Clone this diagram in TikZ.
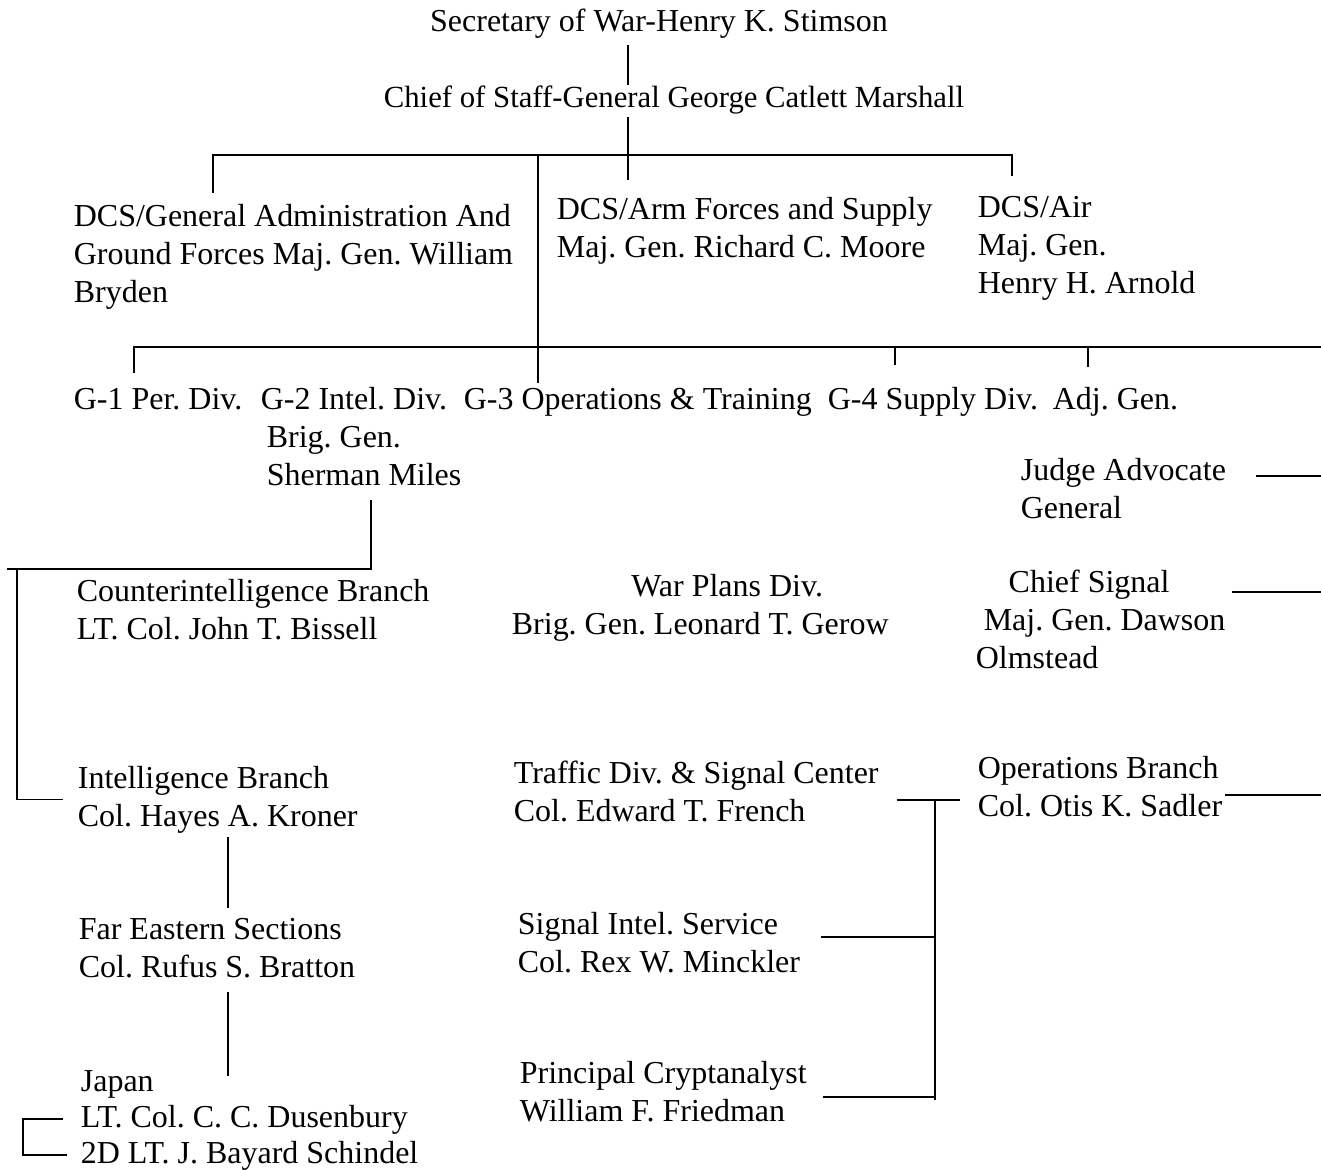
\documentclass[tikz,border=0pt]{standalone}
\usepackage{fontspec}
\setmainfont{Liberation Serif}
\usetikzlibrary{calc}
\frenchspacing

\begin{document}
\begin{tikzpicture}[x=0.02cm, y=-0.02cm, line width=1pt,
  lbl/.style={inner sep=0pt, anchor=base west, align=left,
    font=\fontsize{18.2}{21.5}\selectfont}]
  \useasboundingbox (0,0) rectangle (1321,1169);
  % top of the chain
  \node[lbl, anchor=base] (stimson) at (659,32) {Secretary of War-Henry K. Stimson};
  \node[lbl, anchor=base, font=\fontsize{17.5}{21.5}\selectfont] (marshall) at (674,108) {Chief of Staff-General George Catlett Marshall};
  % deputy chiefs of staff (multi-line nodes sit on their last line)
  \node[lbl] (dcsga) at (73,302) {DCS/General Administration And\\Ground Forces Maj. Gen. William\\Bryden};
  \node[lbl] (dcsarm) at (556,257) {DCS/Arm Forces and Supply\\Maj. Gen. Richard C. Moore};
  \node[lbl] (dcsair) at (977,293) {DCS/Air\\Maj. Gen.\\Henry H. Arnold};
  % general staff divisions
  \node[lbl] (gone) at (73,409) {G-1 Per. Div.};
  \node[lbl] (gtwo) at (260,485) {G-2 Intel. Div.\\\hspace*{3.4pt}Brig. Gen.\\\hspace*{3.4pt}Sherman Miles};
  \node[lbl] (gthree) at (463,409) {G-3 Operations \& Training};
  \node[lbl] (gfour) at (827,409) {G-4 Supply Div.};
  \node[lbl] (adjgen) at (1052,409) {Adj. Gen.};
  \node[lbl] (judge) at (1020,518) {Judge Advocate\\General};
  \node[lbl] (chief) at (975,668) {\hspace*{18.7pt}Chief Signal\\\hspace*{4.5pt}Maj. Gen. Dawson\\Olmstead};
  \node[lbl] (warplans) at (511,634) {\hspace*{68pt}War Plans Div.\\Brig. Gen. Leonard T. Gerow};
  % intelligence side
  \node[lbl] (counter) at (76,639) {Counterintelligence Branch\\LT. Col. John T. Bissell};
  \node[lbl] (intel) at (77,826) {Intelligence Branch\\Col. Hayes A. Kroner};
  \node[lbl] (fareast) at (78,977) {Far Eastern Sections\\Col. Rufus S. Bratton};
  \node[lbl] (japan) at (80,1091) {Japan};
  \node[lbl] (dusen) at (80,1127) {LT. Col. C. C. Dusenbury};
  \node[lbl] (schin) at (80,1163) {2D LT. J. Bayard Schindel};
  % signal side
  \node[lbl] (traffic) at (513,821) {Traffic Div. \& Signal Center\\Col. Edward T. French};
  \node[lbl] (sigint) at (517,972) {Signal Intel. Service\\Col. Rex W. Minckler};
  \node[lbl] (crypt) at (519,1121) {Principal Cryptanalyst\\William F. Friedman};
  \node[lbl] (ops) at (977,816) {Operations Branch\\Col. Otis K. Sadler};

  \coordinate (trunk) at (628,155);
  \coordinate (barL) at (213,155);
  \coordinate (barR) at (1012,155);
  \coordinate (spine) at (538,347);
  \coordinate (barTwoL) at (134,347);
  \coordinate (barTwoR) at (1321,347);
  \coordinate (gfourDrop) at (895,347);
  \coordinate (adjDrop) at (1088,347);
  \coordinate (ciJoin) at (371,569);
  \coordinate (ciEnd) at (7,569);
  \coordinate (leftRail) at (17,569);
  \coordinate (subLine) at (228,0);
  \coordinate (jRail) at (23,0);
  \coordinate (rEdge) at (1321,0);
  \coordinate (fJoin) at (935,800);

  \draw[shorten <=3pt] (stimson.south -| trunk) -- (marshall.north -| trunk);
  \draw[shorten <=1pt, shorten >=9pt] (marshall.south -| trunk) -- (dcsarm.north -| trunk);
  \draw[shorten <=6pt, shorten >=11pt] (barL |- dcsga.north) -- (barL) -- (barR) -- (barR |- dcsair.north);
  \draw[shorten >=2pt] (barL -| spine) -- (gthree.north -| spine);
  \draw[shorten <=8pt] (barTwoL |- gone.north) -- (barTwoL) -- (barTwoR);
  \draw[shorten >=12pt] (gfourDrop) -- (gfourDrop |- gfour.north);
  \draw[shorten >=11pt] (adjDrop) -- (adjDrop |- adjgen.north);

  \draw[shorten <=8pt] (gtwo.south -| ciJoin) -- (ciJoin) -- (ciEnd);
  \draw (leftRail) -- (leftRail |- intel.west) -- ($(intel.west)+(-14,0)$);
  \draw[shorten <=2pt, shorten >=5pt] (intel.south -| subLine) -- (fareast.north -| subLine);
  \draw[shorten <=8pt, shorten >=-4pt] (fareast.south -| subLine) -- (japan.north -| subLine);
  \draw ($(dusen.west)+(-17,0)$) -- (dusen.west -| jRail) -- (schin.west -| jRail) -- ($(schin.west)+(-13,0)$);

  \path ($(judge.base east)+(29,-42)$) coordinate (jStub);
  \draw (jStub) -- (jStub -| rEdge);
  \path ($(chief.base east)+(6,-76)$) coordinate (cStub);
  \draw (cStub) -- (cStub -| rEdge);
  \path ($(ops.base east)+(2,-21)$) coordinate (oStub);
  \draw (oStub) -- (oStub -| rEdge);

  \draw ($(fJoin -| traffic.east)+(17,0)$) -- ($(fJoin -| ops.west)+(-17,0)$);
  \draw (fJoin) -- ($(fJoin |- crypt.base)+(0,-21)$);
  \path ($(sigint.base east)+(20,-35)$) coordinate (sA);
  \draw (sA) -- (sA -| fJoin);
  \path ($(crypt.base east)+(15,-24)$) coordinate (cA);
  \draw (cA) -- (cA -| fJoin);
\end{tikzpicture}
\end{document}
